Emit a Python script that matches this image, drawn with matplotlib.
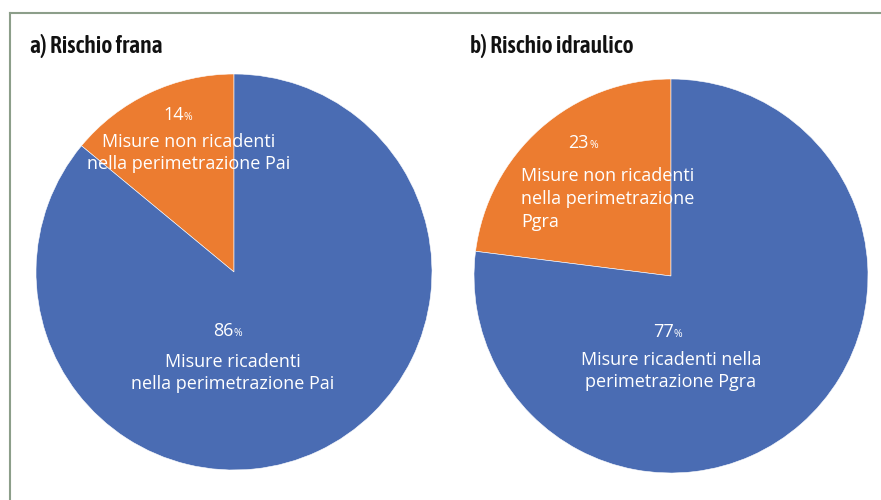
import matplotlib.pyplot as plt

# data
titles = ["a) Rischio frana", "b) Rischio idraulico"]
frana = [14, 86]
idraulico = [23, 77]
labels_frana = ["Misure non ricadenti\nnella perimetrazione Pai",
                "Misure ricadenti\nnella perimetrazione Pai"]
labels_idraulico = ["Misure non ricadenti\nnella perimetrazione\nPgra",
                    "Misure ricadenti nella\nperimetrazione Pgra"]

blue = "#4A6CB3"
orange = "#EC7C30"
frame = "#8C9E8A"

title_font = ["Asap Condensed", "DejaVu Sans"]
label_font = ["Open Sans", "DejaVu Sans"]

W, H = 881, 500
fig = plt.figure(figsize=(W / 100, H / 100), dpi=100)
ax = fig.add_axes([0, 0, 1, 1])

def py(y):
    # pixel row (from top) to data y
    return H - y

# frame lines
ax.plot([10, 880], [py(13), py(13)], color=frame, lw=1.5)
ax.plot([10, 10], [py(13), py(500)], color=frame, lw=1.5)

# pies
ax.pie(frana, colors=[orange, blue], startangle=90, counterclock=True,
       center=(234, py(272)), radius=198, frame=True,
       wedgeprops=dict(edgecolor="white", linewidth=0.4))
ax.pie(idraulico, colors=[orange, blue], startangle=90, counterclock=True,
       center=(671, py(276)), radius=197, frame=True,
       wedgeprops=dict(edgecolor="white", linewidth=0.4))
ax.set_xlim(0, W)
ax.set_ylim(0, H)
ax.set_aspect("equal")
ax.axis("off")

# titles
ax.text(30, py(46), titles[0], fontsize=17, fontweight="semibold",
        family=title_font, ha="left", va="center", color="#111111")
ax.text(470, py(46), titles[1], fontsize=17, fontweight="semibold",
        family=title_font, ha="left", va="center", color="#111111")

def pct(x, y, val):
    ax.text(x + 5, py(y), str(val), fontsize=13, family=label_font,
            color="white", ha="right", va="baseline")
    ax.text(x + 5, py(y), "%", fontsize=7.5, family=label_font,
            color="white", ha="left", va="baseline")

fs = 13
lsp = 1.35
# pie a
pct(179, 120, frana[0])
ax.text(189, py(153), labels_frana[0], fontsize=fs, family=label_font,
        color="white", ha="center", va="center", linespacing=lsp)
pct(229, 336, frana[1])
ax.text(233, py(373), labels_frana[1], fontsize=fs, family=label_font,
        color="white", ha="center", va="center", linespacing=lsp)

# pie b
pct(584, 148, idraulico[0])
ax.text(521, py(199), labels_idraulico[0], fontsize=fs, family=label_font,
        color="white", ha="left", va="center", linespacing=lsp)
pct(669, 337, idraulico[1])
ax.text(671, py(371), labels_idraulico[1], fontsize=fs, family=label_font,
        color="white", ha="center", va="center", linespacing=lsp)

fig.savefig("out.png", dpi=100)
